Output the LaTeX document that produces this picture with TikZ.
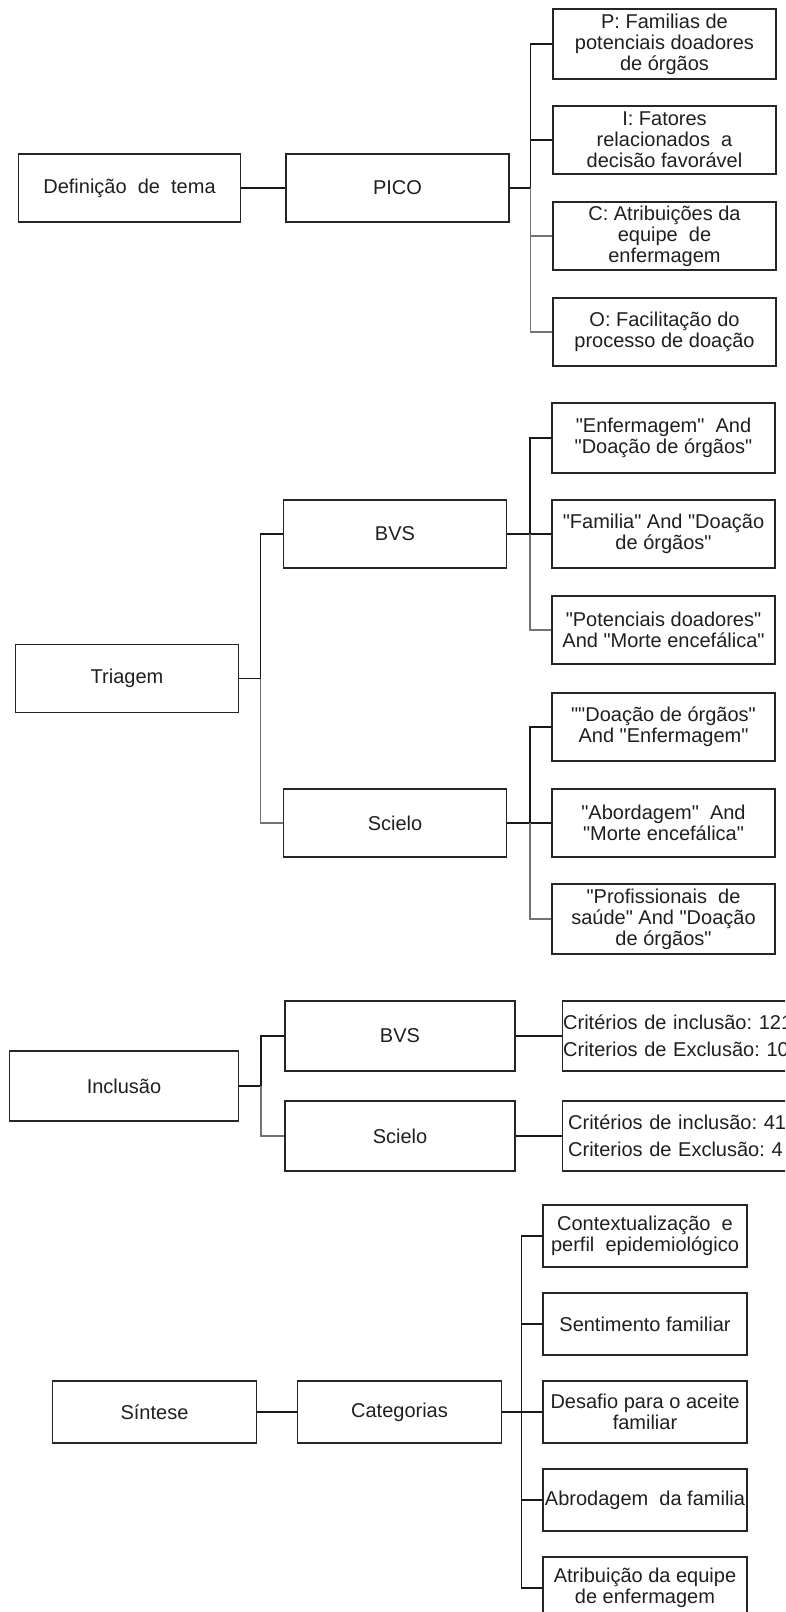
\documentclass[tikz,border=0pt]{standalone}
\usepackage{fontspec}
\setmainfont{Liberation Sans}[Ligatures=TeXOff]
\frenchspacing
\begin{document}
\begin{tikzpicture}[x=1pt,y=-1pt,
  box/.style={draw=black!85, line width=1.4pt, minimum height=68pt, inner sep=0pt,
    align=center, text=black!88, font=\fontsize{20}{21}\selectfont},
  conn/.style={draw=black!90, line width=1.4pt},
  connlt/.style={draw=black!55, line width=1.6pt}]
\clip (0,0) rectangle (785,1612);
% ---------- Section 1 ----------
\node[box, minimum width=222pt] (def) at (129.5,188) {Definição\ \ de\ \ tema};
\node[box, minimum width=223pt] (pico) at (397.5,188) {PICO};
\node[box, minimum width=223pt, minimum height=70pt] (p) at (664.5,44) {P: Familias de\\potenciais doadores\\de órgãos};
\node[box, minimum width=223pt] (i) at (664.5,140) {I: Fatores\\relacionados\ \ a\\decisão favorável};
\node[box, minimum width=223pt] (c) at (664.5,236) {C: Atribuições da\\equipe\ \ de\\enfermagem};
\node[box, minimum width=223pt] (o) at (664.5,332) {O: Facilitação do\\processo de doação};
\coordinate (b1) at (530.5,188);
\draw[conn] (def.east) -- (pico.west);
\draw[conn] (pico.east) -- (b1);
\draw[conn] (b1) |- (p.west);
\draw[conn] (b1) |- (i.west);
\draw[connlt] (b1) |- (c.west);
\draw[connlt] (b1) |- (o.west);
% ---------- Section 2 ----------
\node[box, minimum width=223pt] (tri) at (127,678.5) {Triagem};
\node[box, minimum width=223pt] (bvs) at (395,534) {BVS};
\node[box, minimum width=223pt] (sci) at (395,823) {Scielo};
\node[box, minimum width=223pt, minimum height=70pt] (e1) at (663.5,438) {"Enfermagem"\ \ And\\"Doação de órgãos"};
\node[box, minimum width=223pt] (e2) at (663.5,534) {"Familia" And "Doação\\de órgãos"};
\node[box, minimum width=223pt] (e3) at (663.5,630) {"Potenciais doadores"\\And "Morte encefálica"};
\node[box, minimum width=223pt] (s1) at (663.5,727) {""Doação de órgãos"\\And "Enfermagem"};
\node[box, minimum width=223pt] (s2) at (663.5,823) {"Abordagem"\ \ And\\"Morte encefálica"};
\node[box, minimum width=223pt, minimum height=70pt] (s3) at (663.5,919) {"Profissionais\ \ de\\saúde" And "Doação\\de órgãos"};
\coordinate (b2) at (260.5,678.5);
\coordinate (b3) at (530,534);
\coordinate (b4) at (530,823);
\draw[conn] (tri.east) -- (b2);
\draw[conn] (b2) |- (bvs.west);
\draw[connlt] (b2) |- (sci.west);
\draw[conn] (bvs.east) -- (b3);
\draw[conn] (b3) |- (e1.west);
\draw[conn] (b3) |- (e2.west);
\draw[connlt] (b3) |- (e3.west);
\draw[conn] (sci.east) -- (b4);
\draw[conn] (b4) |- (s1.west);
\draw[conn] (b4) |- (s2.west);
\draw[connlt] (b4) |- (s3.west);
% ---------- Section 3 ----------
\node[box, minimum width=229pt, minimum height=70pt] (inc) at (124,1086) {Inclusão};
\node[box, minimum width=230pt, minimum height=70pt] (bvs2) at (400,1036) {BVS};
\node[box, minimum width=230pt, minimum height=70pt] (sci2) at (400,1136) {Scielo};
\node[box, anchor=west, minimum width=260pt, minimum height=70pt, text width=258pt,
  inner xsep=1pt, align=left] (cr1) at (561.5,1036) {Critérios de inclusão: 121\\[6pt]Criterios de Exclusão: 10};
\node[box, anchor=west, minimum width=260pt, minimum height=70pt, text width=248pt,
  inner xsep=6pt, align=left] (cr2) at (561.5,1136) {Critérios de inclusão: 41\\[6pt]Criterios de Exclusão: 4};
\coordinate (b5) at (261,1086);
\draw[conn] (inc.east) -- (b5);
\draw[conn] (b5) |- (bvs2.west);
\draw[connlt] (b5) |- (sci2.west);
\draw[conn] (bvs2.east) -- (cr1.west);
\draw[conn] (sci2.east) -- (cr2.west);
% ---------- Section 4 ----------
\node[box, minimum width=204pt, minimum height=62pt] (sin) at (154.5,1412) {Síntese};
\node[box, minimum width=204pt, minimum height=62pt] (cat) at (399.5,1412) {Categorias};
\node[box, minimum width=204pt, minimum height=62pt] (k1) at (645,1236) {Contextualização\ \ e\\perfil\ \ epidemiológico};
\node[box, minimum width=204pt, minimum height=62pt] (k2) at (645,1324) {Sentimento familiar};
\node[box, minimum width=204pt, minimum height=62pt] (k3) at (645,1412) {Desafio para o aceite\\familiar};
\node[box, minimum width=204pt, minimum height=62pt] (k4) at (645,1500) {Abrodagem\ \ da familia};
\node[box, minimum width=204pt, minimum height=62pt] (k5) at (645,1588) {Atribuição da equipe\\de enfermagem};
\coordinate (b6) at (521.5,1412);
\draw[conn] (sin.east) -- (cat.west);
\draw[conn] (cat.east) -- (b6);
\draw[conn] (b6) |- (k1.west);
\draw[conn] (b6) |- (k2.west);
\draw[conn] (b6) |- (k3.west);
\draw[conn] (b6) |- (k4.west);
\draw[conn] (b6) |- (k5.west);
\end{tikzpicture}
\end{document}
